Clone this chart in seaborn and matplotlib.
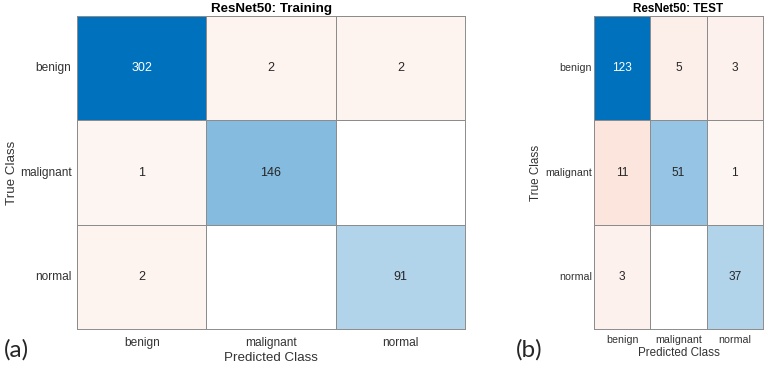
import numpy as np
import pandas as pd
import matplotlib.pyplot as plt
from matplotlib.colors import LinearSegmentedColormap, ListedColormap
import seaborn as sns

sns.set_theme(style='white')
plt.rcParams['font.family'] = ['Liberation Sans', 'DejaVu Sans']

# Confusion matrix counts (rows = true class, cols = predicted class)
classes = ['benign', 'malignant', 'normal']
train_counts = [[302, 2, 2],
                [1, 146, 0],
                [2, 0, 91]]
test_counts = [[123, 5, 3],
               [11, 51, 1],
               [3, 0, 37]]

diag_cmap = LinearSegmentedColormap.from_list('diag', ['#ffffff', '#0072BD'])
off_cmap = LinearSegmentedColormap.from_list('off', ['#fdf6f3', '#f4b89f'])
zero_cmap = ListedColormap(['#ffffff'])
grid_col = '#8c8c8c'
text_col = '#333333'
lw = 0.7


def draw_cm(ax, counts, title, tick_fs, num_fs, lab_fs, title_fs, xpad, ypad):
    df = pd.DataFrame(counts, index=classes, columns=classes)
    vals = df.values
    eye = np.eye(len(classes), dtype=bool)
    common = dict(ax=ax, cbar=False, linewidths=lw, linecolor=grid_col,
                  annot=True, fmt='d', annot_kws={'fontsize': num_fs})
    # diagonal cells, scaled to the largest count
    sns.heatmap(df, mask=~eye, cmap=diag_cmap, vmin=0, vmax=vals.max(), **common)
    # off-diagonal cells
    sns.heatmap(df, mask=eye | (vals == 0), cmap=off_cmap, vmin=0, vmax=40, **common)
    # empty cells
    sns.heatmap(df, mask=vals != 0, cmap=zero_cmap, ax=ax, cbar=False,
                linewidths=lw, linecolor=grid_col)
    for s in ax.spines.values():
        s.set_visible(True)
        s.set_color(grid_col)
        s.set_linewidth(lw)
    ax.set_title(title, fontsize=title_fs, fontweight='bold', color='black', pad=3)
    ax.set_xlabel('Predicted Class', fontsize=lab_fs, color=text_col, labelpad=2)
    ax.set_ylabel('True Class', fontsize=lab_fs, color=text_col)
    ax.tick_params(axis='both', length=0, labelsize=tick_fs, colors=text_col)
    ax.tick_params(axis='x', pad=xpad)
    ax.tick_params(axis='y', pad=ypad)
    ax.set_xticklabels(classes, rotation=0)
    ax.set_yticklabels(classes, rotation=0)


fig = plt.figure(figsize=(7.67, 3.65), dpi=100)
ax1 = fig.add_axes([0.1004, 0.0986, 0.5059, 0.8575])
ax2 = fig.add_axes([0.7744, 0.0986, 0.2203, 0.8575])

draw_cm(ax1, train_counts, 'ResNet50: Training', 8.6, 9, 9.6, 9.6, 6, 4)
draw_cm(ax2, test_counts, 'ResNet50: TEST', 7.7, 8.6, 8.4, 8.4, 4, 1.5)
ax1.yaxis.set_label_coords(-0.153, 0.5)
ax2.yaxis.set_label_coords(-0.31, 0.5)

fig.text(0.005, 0.022, '(a)', fontsize=17.5, family=['Lato', 'DejaVu Sans'])
fig.text(0.673, 0.022, '(b)', fontsize=17.5, family=['Lato', 'DejaVu Sans'])

fig.savefig('out.png', dpi=100)
plt.close(fig)
